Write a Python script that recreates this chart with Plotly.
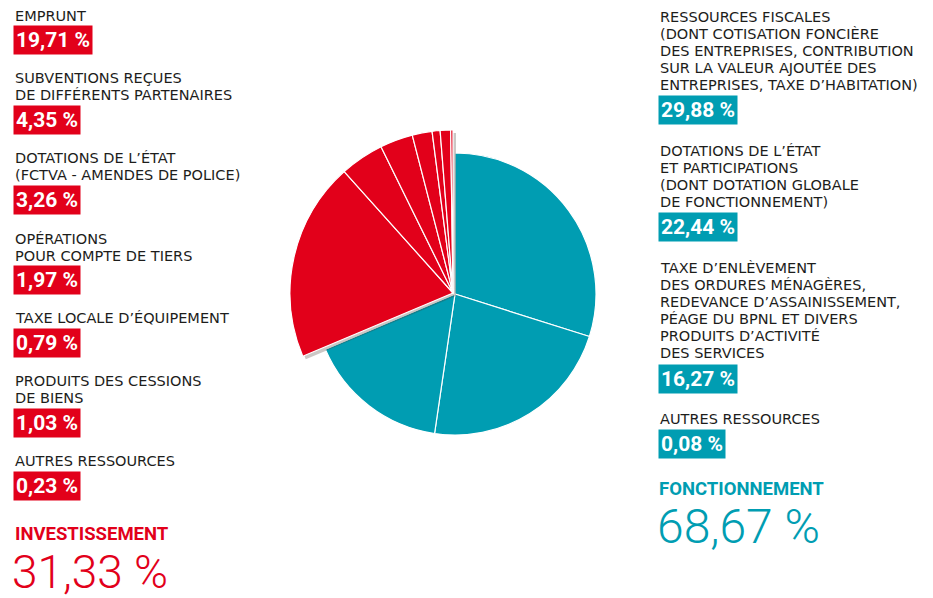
import plotly.graph_objects as go

W, H = 933, 598
RED = "#e2001a"
TEAL = "#009db2"
TXT = "#1d1d1b"

# ---- data ----
fonct_labels = ["Ressources fiscales", "Dotations de l'État et participations",
                "Taxe d'enlèvement / services", "Autres ressources (F)"]
fonct_values = [29.88, 22.44, 16.27, 0.08]
invest_labels = ["Emprunt", "Subventions", "Dotations de l'État (FCTVA)",
                 "Opérations pour compte de tiers", "Taxe locale d'équipement",
                 "Produits des cessions", "Autres ressources (I)"]
invest_values = [19.71, 4.35, 3.26, 1.97, 0.79, 1.03, 0.23]
fonct_total = "68,67 %"
invest_total = "31,33 %"

left_texts = [
    ["EMPRUNT"],
    ["SUBVENTIONS REÇUES", "DE DIFFÉRENTS PARTENAIRES"],
    ["DOTATIONS DE L’ÉTAT", "(FCTVA - AMENDES DE POLICE)"],
    ["OPÉRATIONS", "POUR COMPTE DE TIERS"],
    ["TAXE LOCALE D’ÉQUIPEMENT"],
    ["PRODUITS DES CESSIONS", "DE BIENS"],
    ["AUTRES RESSOURCES"],
]
left_pcts = ["19,71 %", "4,35 %", "3,26 %", "1,97 %", "0,79 %", "1,03 %", "0,23 %"]
right_texts = [
    ["RESSOURCES FISCALES", "(DONT COTISATION FONCIÈRE", "DES ENTREPRISES, CONTRIBUTION",
     "SUR LA VALEUR AJOUTÉE DES", "ENTREPRISES, TAXE D’HABITATION)"],
    ["DOTATIONS DE L’ÉTAT", "ET PARTICIPATIONS", "(DONT DOTATION GLOBALE", "DE FONCTIONNEMENT)"],
    ["TAXE D’ENLÈVEMENT", "DES ORDURES MÉNAGÈRES,", "REDEVANCE D’ASSAINISSEMENT,",
     "PÉAGE DU BPNL ET DIVERS", "PRODUITS D’ACTIVITÉ", "DES SERVICES"],
    ["AUTRES RESSOURCES"],
]
right_pcts = ["29,88 %", "22,44 %", "16,27 %", "0,08 %"]

# ---- layout positions (pixels) ----
left_first_line = [16, 78, 158, 239, 318, 381, 461]
left_box_mid = [40, 120, 200, 280, 343, 423, 486]
right_first_line = [17, 151, 268, 419]
right_box_mid = [110, 227, 379, 444]
LINE = 17

all_labels = fonct_labels + invest_labels
all_values = fonct_values + invest_values
nf, ni = len(fonct_values), len(invest_values)
TRANSP = "rgba(0,0,0,0)"


def dom(cx, cy, r):
    return dict(x=[(cx - r) / W, (cx + r) / W], y=[1 - (cy + r) / H, 1 - (cy - r) / H])


common = dict(labels=all_labels, values=all_values, sort=False, direction="clockwise",
              rotation=0, textinfo="none", hoverinfo="skip", showlegend=False)

fig = go.Figure()
fig.add_trace(go.Pie(**common, domain=dom(455, 294, 141),
                     marker=dict(colors=[TEAL] * nf + [TRANSP] * ni,
                                 line=dict(color=["white"] * nf + [TRANSP] * ni, width=1.2))))
fig.add_trace(go.Pie(**common, domain=dom(456, 296, 163),
                     marker=dict(colors=[TRANSP] * nf + ["rgba(70,55,45,0.28)"] * ni,
                                 line=dict(width=0))))
fig.add_trace(go.Pie(**common, domain=dom(453, 293, 163),
                     marker=dict(colors=[TRANSP] * nf + [RED] * ni,
                                 line=dict(color=[TRANSP] * nf + ["white"] * ni, width=1.2))))

ann = []
LF = dict(family="DejaVu Sans", size=14.5, color=TXT)
BF = dict(family="Roboto", size=21, color="white", weight=700)


def add_block(x, lines, y0, pct, ymid, color):
    for i, t in enumerate(lines):
        ann.append(dict(x=x - 1, y=y0 + i * LINE, text=t, showarrow=False, xanchor="left",
                        yanchor="middle", font=LF, xref="x", yref="y"))
    ann.append(dict(x=x - 1, y=ymid, text=pct, showarrow=False, xanchor="left", yanchor="middle",
                    font=BF, bgcolor=color, borderpad=2, xref="x", yref="y"))


for lines, y0, p, ym in zip(left_texts, left_first_line, left_pcts, left_box_mid):
    add_block(14, lines, y0, p, ym, RED)
for lines, y0, p, ym in zip(right_texts, right_first_line, right_pcts, right_box_mid):
    add_block(659, lines, y0, p, ym, TEAL)

ann.append(dict(x=13, y=533.5, text="INVESTISSEMENT", showarrow=False, xanchor="left", yanchor="middle",
                font=dict(family="Roboto", size=18.5, color=RED, weight=700), xref="x", yref="y"))
ann.append(dict(x=10, y=571.5, text=invest_total, showarrow=False, xanchor="left", yanchor="middle",
                font=dict(family="Roboto", size=46, color=RED, weight=300), xref="x", yref="y"))
ann.append(dict(x=657, y=489, text="FONCTIONNEMENT", showarrow=False, xanchor="left", yanchor="middle",
                font=dict(family="Roboto", size=18.5, color=TEAL, weight=700), xref="x", yref="y"))
ann.append(dict(x=655, y=526, text=fonct_total, showarrow=False, xanchor="left", yanchor="middle",
                font=dict(family="Roboto", size=48, color=TEAL, weight=300), xref="x", yref="y"))

fig.update_layout(
    width=W, height=H, margin=dict(l=0, r=0, t=0, b=0),
    paper_bgcolor="white", plot_bgcolor="rgba(0,0,0,0)",
    xaxis=dict(range=[0, W], visible=False, fixedrange=True),
    yaxis=dict(range=[H, 0], visible=False, fixedrange=True),
    annotations=ann,
)
fig.write_html("out.html", config={"displayModeBar": False},
               post_script="document.body.style.margin='0';")
